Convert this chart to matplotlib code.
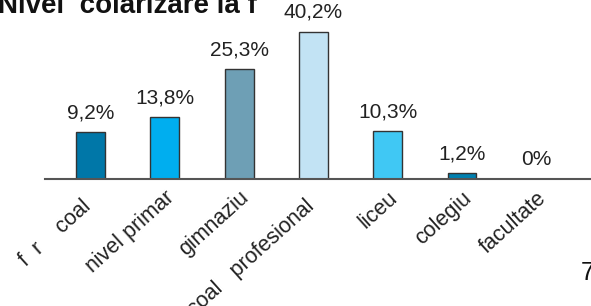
import matplotlib
matplotlib.use("Agg")
import matplotlib.pyplot as plt

plt.rcParams['font.family'] = ['Liberation Sans', 'DejaVu Sans']

# categorii (diacriticele lipsesc in original, asa ca raman spatii)
categorii = ['f  r    coal  ', 'nivel primar', 'gimnaziu', '  coal   profesional  ',
             'liceu', 'colegiu', 'facultate']
etichete = ['9,2%', '13,8%', '25,3%', '40,2%', '10,3%', '1,2%', '0%']
# inaltimile barelor
inaltimi = [12.8, 16.9, 30.0, 40.2, 13.1, 1.6, 0.0]
culori = ['#0077a8', '#00aeef', '#6e9fb5', '#c2e3f4', '#40c8f4', '#0080b0', '#0080b0']

fig = plt.figure(figsize=(5.91, 3.06), dpi=100)
ax = fig.add_axes([45 / 591, 1 - 179 / 306, 1 - 45 / 591, 179 / 306])

x = list(range(len(categorii)))
bare = ax.bar(x, inaltimi, width=0.39, color=culori, edgecolor='#333333', linewidth=1)

for xi, h, et in zip(x, inaltimi, etichete):
    ax.annotate(et, (xi, h), xytext=(0, 10), textcoords='offset points',
                ha='center', va='baseline', fontsize=15, color='#222222')

ax.set_xlim(-0.612, 6.736)
ax.set_ylim(0, 48.9)
ax.set_xticks(x)
ax.set_xticklabels(categorii, rotation=42, ha='right', rotation_mode='anchor',
                   fontsize=15.5, color='#222222')
ax.tick_params(axis='x', length=0, pad=6)
ax.set_yticks([])
for s in ['top', 'right', 'left']:
    ax.spines[s].set_visible(False)
ax.spines['bottom'].set_color('#555555')
ax.spines['bottom'].set_linewidth(1.5)

fig.text(-0.004, 1 - 13 / 306, 'Nivel  colarizare la f', fontsize=20,
         fontweight='bold', ha='left', va='baseline', color='#111111')
fig.text(581 / 591, 1 - 280 / 306, '7', fontsize=18, ha='left', va='baseline',
         color='#111111')

fig.savefig('out.png', dpi=100)
